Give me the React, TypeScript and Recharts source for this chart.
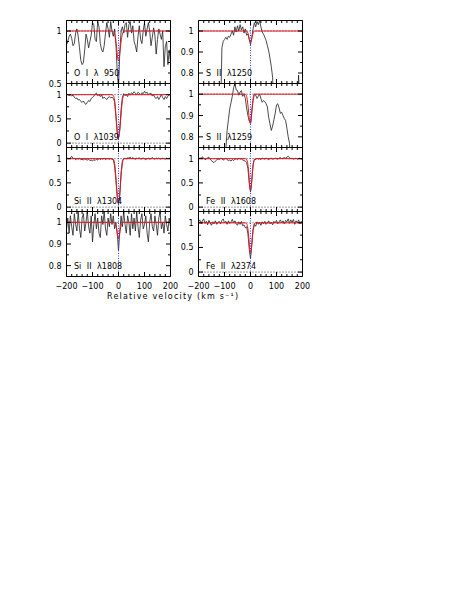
import { LineChart, Line, XAxis, YAxis, ReferenceLine } from 'recharts'

// velocity grid of the spectra (km/s)
const VEL = [
  -200, -195, -190, -185, -180, -175, -170, -165, -160, -155,
  -150, -145, -140, -135, -130, -125, -120, -115, -110, -105,
  -100, -95, -90, -85, -80, -75, -70, -65, -60, -55,
  -50, -45, -40, -35, -30, -25, -20, -15, -10, -5,
  0, 5, 10, 15, 20, 25, 30, 35, 40, 45,
  50, 55, 60, 65, 70, 75, 80, 85, 90, 95,
  100, 105, 110, 115, 120, 125, 130, 135, 140, 145,
  150, 155, 160, 165, 170, 175, 180, 185, 190, 195,
  200
]

// normalized flux
const O1_950 = [
  0.87, 0.9, 0.95, 0.97, 0.93, 0.86, 0.88, 0.98, 1.02, 0.95,
  0.84, 0.72, 0.68, 0.7, 0.82, 0.97, 0.92, 0.84, 0.9, 0.96,
  1.08, 1.06, 0.92, 0.9, 1.09, 1.04, 0.88, 0.82, 0.8, 0.86,
  0.98, 1.08, 1.02, 0.94, 1.09, 1.0, 0.95, 1.02, 0.88, 0.62,
  0.45, 0.8, 1.0, 1.04, 0.98, 1.06, 1.08, 0.94, 1.06, 1.09,
  0.98, 1.05, 0.9, 0.86, 0.8, 0.95, 1.05, 0.92, 0.88, 1.0,
  1.08, 0.95, 1.02, 1.08, 1.0, 0.86, 0.94, 1.03, 0.96, 0.78,
  0.92, 1.02, 0.97, 0.92, 1.0, 0.66, 0.85, 0.9, 0.68, 0.82,
  0.7
]
const O1_1039 = [
  1.02, 1.0, 0.98, 1.0, 0.97, 0.99, 0.95, 0.92, 0.93, 0.89,
  0.9, 0.86, 0.84, 0.87, 0.82, 0.8, 0.84, 0.88, 0.86, 0.92,
  0.94, 0.97, 1.01, 1.03, 0.98, 1.0, 0.96, 1.0, 0.92, 0.95,
  0.92, 0.9, 0.94, 0.96, 0.93, 0.95, 0.92, 0.85, 0.55, 0.2,
  0.09, 0.3, 0.7, 0.95, 1.02, 0.98, 1.0, 0.96, 1.03, 0.99,
  1.04, 1.02, 1.06, 1.03, 1.0, 1.05, 1.02, 1.0, 1.04, 1.02,
  1.07, 1.03, 1.05, 1.0, 1.02, 1.03, 0.97, 1.0, 0.94, 0.92,
  0.96, 0.9, 0.95, 1.0, 0.94, 0.9, 0.96, 0.92, 0.97, 1.0,
  0.98
]
const SI2_1304 = [
  1.0, 1.01, 0.99, 1.02, 1.05, 1.0, 1.01, 0.98, 1.0, 0.99,
  1.01, 0.98, 0.99, 0.97, 1.0, 0.98, 0.97, 0.99, 0.96, 0.97,
  0.95, 0.98, 0.96, 0.99, 0.97, 1.01, 0.98, 1.0, 0.99, 1.01,
  0.98, 1.0, 1.0, 0.99, 1.0, 0.99, 0.98, 0.85, 0.55, 0.22,
  0.05, 0.25, 0.72, 0.96, 1.0, 1.01, 0.99, 1.02, 1.01, 1.03,
  1.0, 1.02, 1.0, 0.99, 1.01, 1.0, 1.02, 0.99, 1.0, 1.01,
  1.0, 0.98, 1.0, 1.01, 0.99, 1.0, 1.02, 1.0, 0.99, 1.01,
  1.0, 1.01, 0.99, 1.0, 1.01, 1.0, 0.99, 1.01, 1.0, 1.01,
  1.0
]
const SI2_1808 = [
  0.97, 1.02, 0.95, 1.03, 0.98, 0.94, 1.04, 0.99, 0.96, 1.05,
  0.97, 0.93, 1.02, 1.04, 0.96, 1.0, 1.05, 0.98, 0.95, 1.03,
  0.91, 0.99, 1.04, 0.97, 1.02, 0.95, 0.93, 1.03, 0.99, 1.05,
  0.97, 0.94, 1.02, 0.98, 1.04, 0.99, 1.03, 0.97, 1.0, 0.95,
  0.87, 0.96, 1.03, 0.98, 1.05, 0.99, 0.95, 1.03, 1.0, 0.94,
  1.04, 0.97, 1.02, 0.96, 1.05, 0.98, 0.93, 1.01, 1.04, 0.97,
  0.99, 1.03, 0.95, 0.91, 1.0, 1.04, 0.98, 0.96, 1.03, 0.99,
  0.94, 1.02, 1.05, 0.97, 1.0, 0.95, 1.03, 0.99, 0.96, 1.02,
  0.98
]
const S2_1250 = [
  0.6, 0.6, 0.6, 0.6, 0.6, 0.6, 0.6, 0.6, 0.6, 0.6,
  0.6, 0.6, 0.6, 0.6, 0.6, 0.6, 0.6, 0.6, 0.92, 0.95,
  0.96, 0.97, 0.96, 0.975, 0.97, 0.985, 1.0, 0.98, 1.02, 0.995,
  1.025, 1.0, 1.03, 1.005, 1.02, 0.99, 1.01, 0.98, 0.985, 0.96,
  0.935, 0.97, 1.01, 1.04, 1.02, 1.045, 1.03, 1.05, 1.02, 0.995,
  0.985, 0.97, 0.955, 0.93, 0.905, 0.87, 0.83, 0.78, 0.6, 0.6,
  0.6, 0.6, 0.6, 0.6, 0.6, 0.6, 0.6, 0.6, 0.6, 0.6,
  0.6, 0.6, 0.6, 0.6, 0.6, 0.6, 0.6, 0.79, 0.6, 0.6,
  0.6
]
const S2_1259 = [
  0.6, 0.6, 0.6, 0.6, 0.6, 0.6, 0.6, 0.6, 0.6, 0.6,
  0.6, 0.6, 0.6, 0.6, 0.6, 0.6, 0.6, 0.6, 0.6, 0.6,
  0.6, 0.74, 0.83, 0.88, 0.93, 0.96, 0.99, 1.03, 1.05, 1.02,
  1.017, 0.995, 1.01, 1.017, 0.99, 1.0, 0.98, 0.935, 0.9, 0.875,
  0.865, 0.92, 0.97, 1.0, 0.995, 0.98, 0.99, 1.0, 0.98, 0.962,
  0.97, 0.965, 0.955, 0.94, 0.89, 0.86, 0.83, 0.85, 0.88, 0.91,
  0.95, 0.955, 0.935, 0.91, 0.915, 0.9, 0.885, 0.877, 0.84, 0.8,
  0.77, 0.6, 0.6, 0.6, 0.6, 0.6, 0.6, 0.6, 0.6, 0.6,
  0.6
]
const FE2_1608 = [
  0.99, 1.02, 1.0, 1.04, 1.01, 0.98, 0.99, 1.02, 1.03, 0.99,
  0.96, 0.93, 0.92, 0.95, 0.97, 1.0, 0.98, 1.01, 1.0, 0.97,
  0.99, 1.01, 0.98, 0.96, 0.97, 0.95, 0.98, 0.96, 0.99, 1.0,
  0.98, 1.01, 0.99, 1.0, 0.97, 0.96, 0.95, 0.92, 0.8, 0.5,
  0.31, 0.55, 0.88, 0.99, 0.98, 1.01, 0.99, 1.0, 0.98, 1.01,
  1.0, 0.99, 1.01, 1.0, 0.98, 1.0, 1.01, 0.99, 1.0, 1.01,
  1.0, 0.99, 1.01, 1.02, 1.0, 1.01, 1.02, 1.01, 1.03, 1.05,
  1.02, 1.0, 1.01, 0.99, 1.0, 1.01, 0.99, 1.0, 1.01, 0.99,
  1.0
]
const FE2_2374 = [
  1.02, 1.06, 0.98, 1.04, 1.08, 0.99, 1.03, 0.96, 1.05, 1.0,
  0.95, 1.02, 0.98, 1.04, 0.97, 1.01, 1.03, 0.98, 1.05, 1.08,
  1.0, 1.03, 0.97, 1.04, 0.99, 1.02, 1.07, 1.0, 1.04, 0.98,
  0.95, 1.02, 0.97, 1.03, 0.94, 0.96, 0.9, 0.92, 0.78, 0.48,
  0.27, 0.55, 0.85, 0.97, 0.93, 1.02, 0.97, 1.01, 0.95, 1.02,
  0.98, 1.03, 0.97, 1.0, 1.04, 0.98, 1.01, 0.96, 1.03, 1.0,
  1.05, 0.98, 1.02, 1.06, 1.0, 1.04, 0.98, 1.05, 1.02, 1.08,
  0.99, 1.06, 1.01, 1.07, 0.97, 1.04, 1.0, 1.06, 0.98, 1.03,
  1.0
]

// fitted profiles
const FIT_VEL = [-200, -25, -20, -15, -10, -6, -3, 0, 3, 6, 10, 15, 20, 25, 200]
const O1_950_FIT = [1, 1, 0.995, 0.97, 0.9, 0.81, 0.74, 0.715, 0.74, 0.81, 0.9, 0.97, 0.995, 1, 1]
const O1_1039_FIT = [1, 1, 0.98, 0.88, 0.6, 0.33, 0.17, 0.12, 0.17, 0.33, 0.6, 0.88, 0.98, 1, 1]
const SI2_1304_FIT = [1, 1, 0.99, 0.9, 0.62, 0.32, 0.15, 0.1, 0.16, 0.35, 0.65, 0.9, 0.99, 1, 1]
const SI2_1808_FIT = [1, 1, 1, 0.997, 0.985, 0.96, 0.935, 0.925, 0.935, 0.96, 0.985, 0.997, 1, 1, 1]
const S2_1250_FIT = [1, 1, 1, 1, 0.99, 0.97, 0.952, 0.945, 0.952, 0.97, 0.99, 1, 1, 1, 1]
const S2_1259_FIT = [1, 1, 1, 0.99, 0.95, 0.9, 0.868, 0.862, 0.88, 0.93, 0.98, 1, 1, 1, 1]
const FE2_1608_FIT = [1, 1, 1, 0.98, 0.88, 0.66, 0.44, 0.34, 0.42, 0.62, 0.86, 0.98, 1, 1, 1]
const FE2_2374_FIT = [1, 1, 1, 0.98, 0.88, 0.67, 0.46, 0.37, 0.45, 0.65, 0.87, 0.98, 1, 1, 1]

const X_TICKS = [-200, -180, -160, -140, -120, -100, -80, -60, -40, -20, 0, 20, 40, 60, 80, 100, 120, 140, 160, 180, 200]
const X_MAJOR = [-200, -100, 0, 100, 200]
const FULL_TICKS = [0, 0.25, 0.5, 0.75, 1]
const FULL_MAJOR = [0, 0.5, 1]
const NARROW_TICKS = [0.8, 0.85, 0.9, 0.95, 1]
const NARROW_MAJOR = [0.8, 0.9, 1]
const O1_950_TICKS = [0.5, 0.6, 0.7, 0.8, 0.9, 1]
const O1_950_MAJOR = [0.5, 1]

const FULL = [-0.09, 1.23]
const NARROW = [0.75, 1.05]

const PANELS = [
  { label: 'O I λ 950', flux: O1_950, fit: O1_950_FIT, col: 0, row: 0, domain: [0.5, 1.1], ticks: O1_950_TICKS, major: O1_950_MAJOR },
  { label: 'O I λ1039', flux: O1_1039, fit: O1_1039_FIT, col: 0, row: 1, domain: FULL, ticks: FULL_TICKS, major: FULL_MAJOR },
  { label: 'Si II λ1304', flux: SI2_1304, fit: SI2_1304_FIT, col: 0, row: 2, domain: FULL, ticks: FULL_TICKS, major: FULL_MAJOR },
  { label: 'Si II λ1808', flux: SI2_1808, fit: SI2_1808_FIT, col: 0, row: 3, domain: NARROW, ticks: NARROW_TICKS, major: NARROW_MAJOR },
  { label: 'S II λ1250', flux: S2_1250, fit: S2_1250_FIT, col: 1, row: 0, domain: NARROW, ticks: NARROW_TICKS, major: NARROW_MAJOR },
  { label: 'S II λ1259', flux: S2_1259, fit: S2_1259_FIT, col: 1, row: 1, domain: NARROW, ticks: NARROW_TICKS, major: NARROW_MAJOR },
  { label: 'Fe II λ1608', flux: FE2_1608, fit: FE2_1608_FIT, col: 1, row: 2, domain: FULL, ticks: FULL_TICKS, major: FULL_MAJOR },
  { label: 'Fe II λ2374', flux: FE2_2374, fit: FE2_2374_FIT, col: 1, row: 3, domain: FULL, ticks: FULL_TICKS, major: FULL_MAJOR }
]

const COL_X = [66, 198]
const COL_W = 104
const ROW_Y = [20, 83, 147, 211, 276]

const FONT = '"DejaVu Sans", sans-serif'
// outer padding of each panel's svg; every axis takes 1px more
const PAD_L = 30.5
const PAD_T = 4.5

const fmtNum = (v: number) => String(v).replace('-', '\u2212')

function makeTick(side: string, major: number[], showLabel: boolean) {
  return (props: any) => {
    const { x, y, payload } = props
    const v = payload.value
    const isMajor = major.includes(v)
    const len = isMajor ? 4.5 : 2.5
    let line
    let text = null
    if (side === 'bottom') {
      line = <line x1={x} y1={y} x2={x} y2={y - len} />
      if (showLabel && isMajor)
        text = (
          <text x={x} y={y + 12} textAnchor="middle" fontSize={8} fontFamily={FONT} fill="#000" stroke="none">
            {fmtNum(v)}
          </text>
        )
    } else if (side === 'top') {
      line = <line x1={x} y1={y} x2={x} y2={y + len} />
    } else if (side === 'left') {
      line = <line x1={x} y1={y} x2={x + len} y2={y} />
      if (showLabel && isMajor)
        text = (
          <text x={x - 5} y={y + 3} textAnchor="end" fontSize={8} fontFamily={FONT} fill="#000" stroke="none">
            {fmtNum(v)}
          </text>
        )
    } else {
      line = <line x1={x} y1={y} x2={x - len} y2={y} />
    }
    return (
      <g stroke="#000" strokeWidth={1}>
        {line}
        {text}
      </g>
    )
  }
}

function Panel({ p }: { p: (typeof PANELS)[number] }) {
  const left = COL_X[p.col]
  const top = ROW_Y[p.row]
  const h = ROW_Y[p.row + 1] - top
  const isBottom = p.row === 3
  const padB = isBottom ? 16.5 : 4.5
  const padR = isBottom ? 14.5 : 4.5
  const width = COL_W + PAD_L + padR
  const height = h + PAD_T + padB
  const flux = VEL.map((v, i) => ({ v, f: p.flux[i] }))
  const fit = FIT_VEL.map((v, i) => ({ v, f: p.fit[i] }))
  const hasZero = p.domain[0] < 0

  return (
    <>
      <div style={{ position: 'absolute', left: left - 30, top: top - 4, width, height }}>
        <LineChart
          width={width}
          height={height}
          margin={{ top: PAD_T - 1, right: padR - 1, bottom: padB - 1, left: PAD_L - 1 }}>
          <XAxis
            xAxisId="b"
            type="number"
            dataKey="v"
            domain={[-200, 200]}
            ticks={X_TICKS}
            interval={0}
            allowDataOverflow
            height={1}
            tickSize={0}
            tickMargin={0}
            tickLine={false}
            axisLine={{ stroke: '#000' }}
            tick={makeTick('bottom', X_MAJOR, isBottom)}
          />
          <XAxis
            xAxisId="t"
            orientation="top"
            type="number"
            dataKey="v"
            domain={[-200, 200]}
            ticks={X_TICKS}
            interval={0}
            allowDataOverflow
            height={1}
            tickSize={0}
            tickMargin={0}
            tickLine={false}
            axisLine={{ stroke: '#000' }}
            tick={makeTick('top', X_MAJOR, false)}
          />
          <YAxis
            yAxisId="l"
            type="number"
            domain={p.domain}
            ticks={p.ticks}
            interval={0}
            allowDataOverflow
            width={1}
            tickSize={0}
            tickMargin={0}
            tickLine={false}
            axisLine={{ stroke: '#000' }}
            tick={makeTick('left', p.major, true)}
          />
          <YAxis
            yAxisId="r"
            orientation="right"
            type="number"
            domain={p.domain}
            ticks={p.ticks}
            interval={0}
            allowDataOverflow
            width={1}
            tickSize={0}
            tickMargin={0}
            tickLine={false}
            axisLine={{ stroke: '#000' }}
            tick={makeTick('right', p.major, false)}
          />
          {hasZero && (
            <ReferenceLine xAxisId="b" yAxisId="l" y={0} stroke="#000" strokeWidth={0.8} strokeDasharray="1 2" />
          )}
          <ReferenceLine xAxisId="b" yAxisId="l" y={1} stroke="#000" strokeWidth={0.8} strokeDasharray="1 2" />
          <Line
            xAxisId="b"
            yAxisId="l"
            data={flux}
            dataKey="f"
            type="linear"
            stroke="#1e1e1e"
            strokeWidth={0.8}
            dot={false}
            isAnimationActive={false}
          />
          <Line
            xAxisId="b"
            yAxisId="l"
            data={fit}
            dataKey="f"
            type="monotone"
            stroke="#e8141c"
            strokeWidth={1}
            dot={false}
            isAnimationActive={false}
          />
          <ReferenceLine xAxisId="b" yAxisId="l" x={0} stroke="#3c3cff" strokeWidth={1} strokeDasharray="1 1.5" />
        </LineChart>
      </div>
      <div
        style={{
          position: 'absolute',
          left: left + 8,
          top: top + h - 14,
          fontFamily: FONT,
          fontSize: 8,
          lineHeight: '10px',
          wordSpacing: 3,
          whiteSpace: 'nowrap',
          color: '#000'
        }}>
        {p.label}
      </div>
    </>
  )
}

export default function App() {
  return (
    <div style={{ position: 'absolute', left: 0, top: 0, width: 474, height: 614, background: '#fff' }}>
      {PANELS.map((p) => (
        <Panel key={p.label} p={p} />
      ))}
      <svg style={{ position: 'absolute', left: 0, top: 286 }} width={474} height={20}>
        <text x={107} y={12.5} textLength={131} lengthAdjust="spacing" fontSize={8} fontFamily={FONT} fill="#000">
          Relative velocity (km s⁻¹)
        </text>
      </svg>
    </div>
  )
}
